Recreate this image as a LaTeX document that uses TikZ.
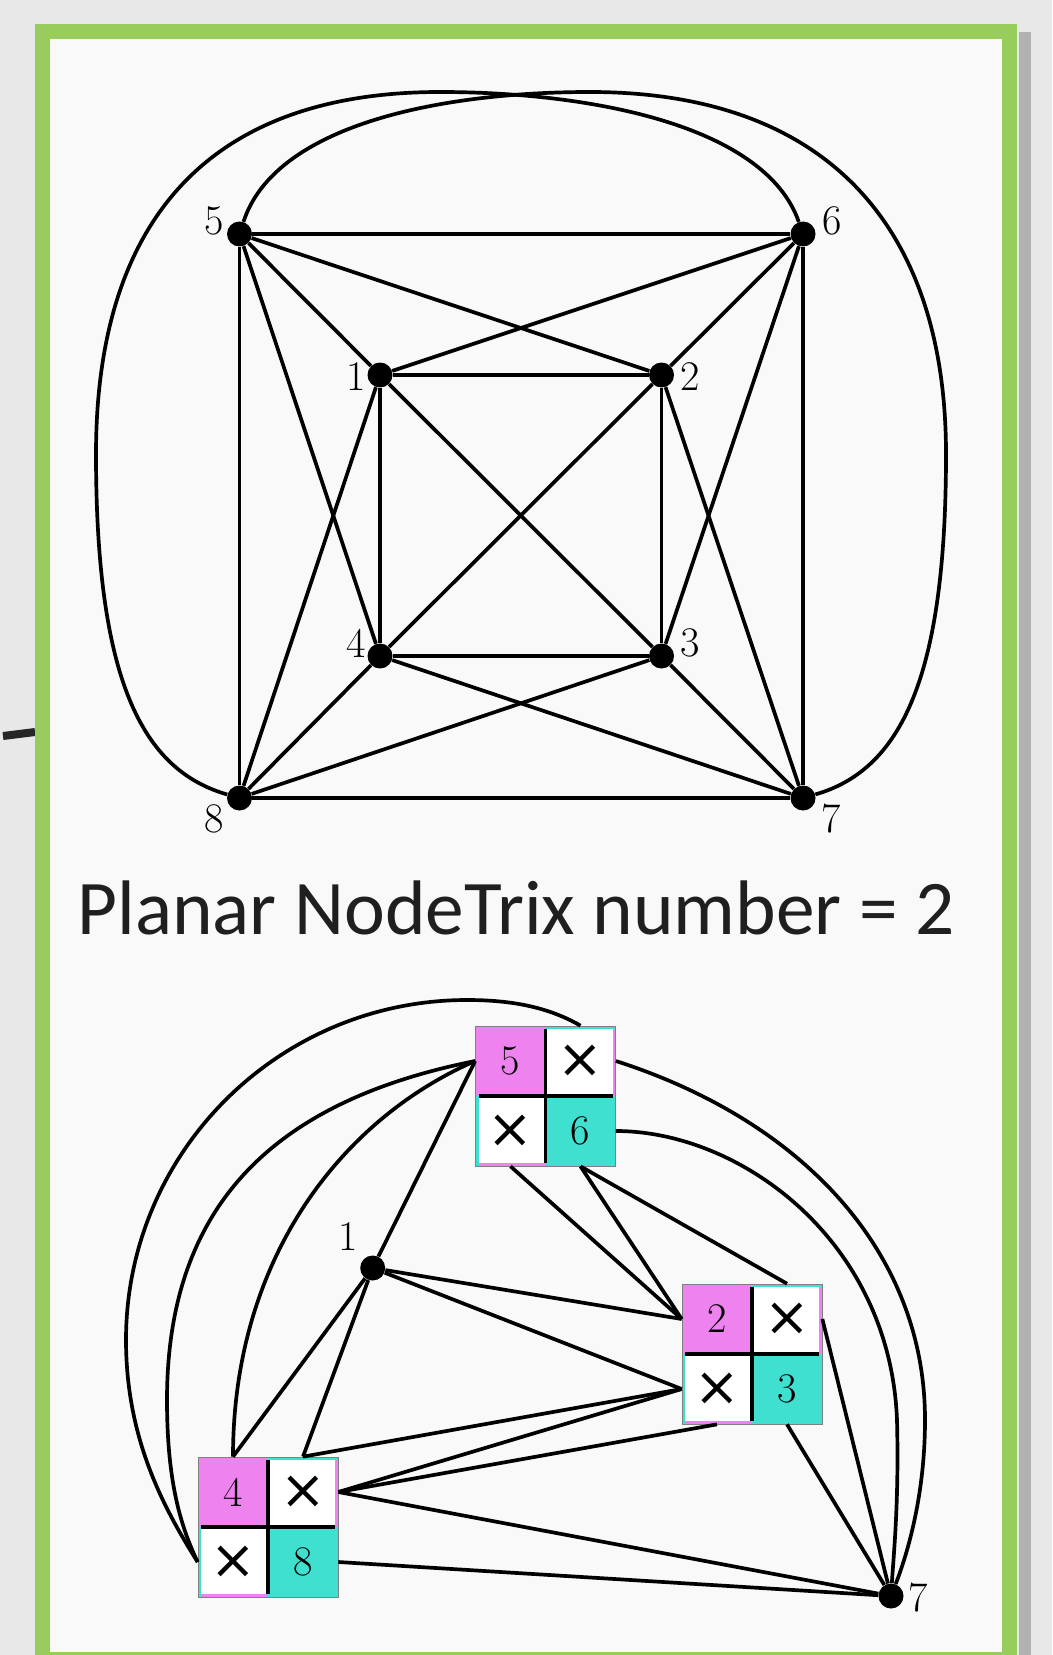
\documentclass[tikz,border=0pt]{standalone}
\usepackage{fontspec}
\newfontfamily\titlefont{Carlito}
\newfontfamily\crossfont{DejaVu Sans}
\definecolor{framegreen}{RGB}{152,204,92}
\definecolor{ntviolet}{RGB}{238,130,238}
\definecolor{ntturq}{RGB}{64,224,208}
\definecolor{paper}{RGB}{249,249,249}
\tikzset{
  link/.style={line width=2.1pt},
  vtx/.style={circle, fill=black, inner sep=0pt, minimum size=0.5cm},
  lbl/.style={inner sep=0pt, font=\fontsize{24}{24}\selectfont},
  cell/.style={minimum size=1.4cm, inner sep=0pt, font=\fontsize{24}{24}\selectfont},
  cellA/.style={cell, fill=ntviolet},
  cellB/.style={cell, fill=ntturq},
  cellX/.style={cell, fill=white, font=\crossfont\fontsize{31}{31}\selectfont},
  hdr/.style={line width=0.06cm},
}
\newcommand{\ntmat}[5]{%
  \begin{scope}[shift={(#2,#3)}]
    \node[cellA] (#1-#4) at (35,35) {#4};
    \node[cellX] (#1-#4#5) at (105,35) {×};
    \node[cellX] (#1-#5#4) at (35,105) {×};
    \node[cellB] (#1-#5) at (105,105) {#5};
    \draw[hdr, ntviolet] (0,1.5) -- (70,1.5) (138.5,0) -- (138.5,70) (0,138.5) -- (70,138.5) (1.5,0) -- (1.5,70);
    \draw[hdr, ntturq] (70,1.5) -- (140,1.5) (138.5,70) -- (138.5,140) (70,138.5) -- (140,138.5) (1.5,70) -- (1.5,140);
    \draw[link] (70,3) -- (70,137) (3,70) -- (137,70);
    \draw[gray, line width=0.4pt] (0,0) rectangle (140,140);
  \end{scope}}

\begin{document}
\begin{tikzpicture}[x=0.02cm, y=-0.02cm]
  \useasboundingbox (0,0) rectangle (1052,1655);
  \fill[gray!18] (0,0) rectangle (1052,1655);
  \draw[line width=0.16cm, black!85] (3,736) -- (35,732);
  \fill[black!30] (1019,32) rectangle (1031,1655);
  \fill[framegreen] (35,24) rectangle (1017,1680);
  \fill[paper] (50,39) rectangle (1002,1652);

  \node[vtx] (t5) at (239.5,234) {};
  \node[vtx] (t6) at (803,234) {};
  \node[vtx] (t1) at (380,375) {};
  \node[vtx] (t2) at (661.5,375) {};
  \node[vtx] (t4) at (380,656) {};
  \node[vtx] (t3) at (661.5,656) {};
  \node[vtx] (t8) at (239.5,798) {};
  \node[vtx] (t7) at (803,798) {};
  \node[lbl] (t5l) at ([shift={(-25,-13)}]t5) {5};
  \node[lbl] (t6l) at ([shift={(29,-13)}]t6) {6};
  \node[lbl] (t1l) at ([shift={(-24,2)}]t1) {1};
  \node[lbl] (t2l) at ([shift={(29,2)}]t2) {2};
  \node[lbl] (t4l) at ([shift={(-24,-13)}]t4) {4};
  \node[lbl] (t3l) at ([shift={(29,-13)}]t3) {3};
  \node[lbl] (t8l) at ([shift={(-25,21)}]t8) {8};
  \node[lbl] (t7l) at ([shift={(28,21)}]t7) {7};

  \foreach \a/\b in {t5/t6,t6/t7,t7/t8,t8/t5,t1/t2,t2/t3,t3/t4,t4/t1,t1/t3,t2/t4,
                     t5/t1,t6/t2,t7/t3,t8/t4,t5/t2,t5/t4,t6/t1,t6/t3,t7/t2,t7/t4,t8/t1,t8/t3}
    \draw[link] (\a) -- (\b);
  \draw[link] (t5) .. controls (275,125) and (440,92) .. (590,92)
    .. controls (830,92) and (946,230) .. (946,454)
    .. controls (946,680) and (900,770) .. (t7);
  \draw[link] (t6) .. controls (765,125) and (590,92) .. (440,92)
    .. controls (200,92) and (96,230) .. (96,454)
    .. controls (96,680) and (142,770) .. (t8);

  \node[font=\titlefont\fontsize{44}{44}\selectfont, text=black!88, anchor=base, inner sep=0pt] (title) at (516,934) {Planar NodeTrix number = 2};

  \ntmat{m56}{475.5}{1026}{5}{6}
  \ntmat{m23}{682}{1284}{2}{3}
  \ntmat{m48}{198}{1457}{4}{8}
  \node[vtx] (b1) at (372.7,1268) {};
  \node[vtx] (b7) at (891,1596) {};
  \node[lbl] (b1l) at ([shift={(-25,-31)}]b1) {1};
  \node[lbl] (b7l) at ([shift={(27,2)}]b7) {7};

  \draw[link] (b1) -- (m56-5.west);
  \draw[link] (b1) -- (m23-2.west);
  \draw[link] (b1) -- (m23-32.west);
  \draw[link] (b1) -- (m48-4.north);
  \draw[link] (b1) -- (m48-48.north);
  \draw[link] (m56-65.south) -- (m23-2.west);
  \draw[link] (m56-6.south) -- (m23-2.west);
  \draw[link] (m56-6.south) -- (m23-23.north);
  \draw[link] (m48-48.north) -- (m23-32.west);
  \draw[link] (m48-48.east) -- (m23-32.west);
  \draw[link] (m48-48.east) -- (m23-32.south);
  \draw[link] (m48-48.east) -- (b7);
  \draw[link] (m48-8.east) -- (b7);
  \draw[link] (m23-23.east) -- (b7);
  \draw[link] (m23-3.south) -- (b7);
  \draw[link] (m56-56.north) .. controls (545,1005) and (505,1000) .. (467,1000)
    .. controls (279,1000) and (126,1152) .. (126,1340)
    .. controls (126,1440) and (165,1510) .. (m48-84.west);
  \draw[link] (m56-5.west) .. controls (280,1100) and (167,1200) .. (167,1400)
    .. controls (167,1480) and (180,1525) .. (m48-84.west);
  \draw[link] (m56-5.west) .. controls (340,1120) and (233,1260) .. (m48-4.north);
  \draw[link] (m56-56.east) .. controls (800,1120) and (925,1250) .. (925,1420)
    .. controls (925,1500) and (905,1560) .. (b7);
  \draw[link] (m56-6.east) .. controls (740,1131) and (890,1240) .. (897,1420)
    .. controls (899,1500) and (894,1550) .. (b7);
\end{tikzpicture}
\end{document}
